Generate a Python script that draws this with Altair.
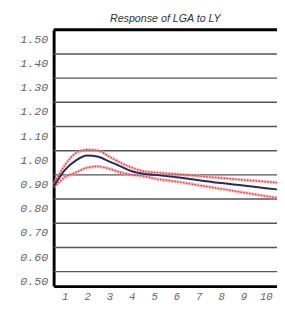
import altair as alt
import pandas as pd

periods = [0.5, 1, 1.5, 2, 2.5, 3, 3.5, 4, 4.5, 5, 6, 7, 8, 9, 10, 10.5]
central = [0.852, 0.92, 0.96, 0.98, 0.975, 0.955, 0.935, 0.915, 0.905, 0.90, 0.89, 0.878, 0.866, 0.856, 0.845, 0.84]
upper = [0.86, 0.94, 0.99, 1.004, 1.0, 0.975, 0.95, 0.93, 0.915, 0.91, 0.903, 0.895, 0.887, 0.879, 0.872, 0.868]
lower = [0.85, 0.89, 0.91, 0.93, 0.935, 0.925, 0.91, 0.90, 0.895, 0.885, 0.872, 0.857, 0.842, 0.827, 0.812, 0.805]
grid_values = [0.5, 0.6, 0.7, 0.8, 0.9, 1.0, 1.1, 1.2, 1.3, 1.4]
y_labels = [0.5, 0.6, 0.7, 0.8, 0.9, 1.0, 1.1, 1.2, 1.3, 1.4, 1.5]
x_labels = [1, 2, 3, 4, 5, 6, 7, 8, 9, 10]

df = pd.DataFrame({"period": periods, "central": central, "upper": upper, "lower": lower})
grid_df = pd.DataFrame({"v": grid_values})
top_df = pd.DataFrame({"v": [1.5]})

xs = alt.Scale(domain=[0.5, 10.5], nice=False, zero=False)
ys = alt.Scale(domain=[0.44, 1.5], nice=False, zero=False)

x_axis = alt.Axis(values=x_labels, title=None, grid=False, ticks=False, domainColor="black",
                  domainWidth=3, labelFont="Liberation Mono", labelFontStyle="italic",
                  labelFontSize=11, labelColor="#666", labelPadding=5, labelFlush=False,
                  labelOverlap=False)
y_axis = alt.Axis(values=y_labels, title=None, grid=False, ticks=False, domainColor="black",
                  domainWidth=3, labelFont="Liberation Mono", labelFontStyle="italic",
                  labelFontSize=12, labelColor="#666", labelPadding=6, labelOffset=9,
                  format=".2f", labelFlush=False, labelOverlap=False)

grid = alt.Chart(grid_df).mark_rule(color="#555", strokeWidth=1.5).encode(
    y=alt.Y("v:Q", scale=ys, axis=y_axis, title=None)
)
top = alt.Chart(top_df).mark_rule(color="black", strokeWidth=3).encode(
    y=alt.Y("v:Q", scale=ys, axis=y_axis, title=None)
)

base = alt.Chart(df)
def line(field, **kw):
    return base.mark_line(interpolate="monotone", **kw).encode(
        x=alt.X("period:Q", scale=xs, axis=x_axis, title=None),
        y=alt.Y(f"{field}:Q", scale=ys, axis=y_axis, title=None),
    )

glow_u = line("upper", color="#f4a0a0", strokeWidth=3.5, opacity=0.6)
glow_l = line("lower", color="#f4a0a0", strokeWidth=3.5, opacity=0.6)
up = line("upper", color="#e8202a", strokeWidth=1.3, strokeDash=[1.5, 1.5])
lo = line("lower", color="#e8202a", strokeWidth=1.3, strokeDash=[1.5, 1.5])
mid = line("central", color="#1f2d5c", strokeWidth=2)

chart = alt.layer(grid, top, glow_u, glow_l, up, lo, mid).properties(
    width=230, height=264,
    title=alt.TitleParams("Response of LGA to LY", font="Liberation Sans", fontStyle="italic",
                          fontWeight="normal", fontSize=11, color="#333", offset=4),
    autosize=alt.AutoSizeParams(type="none"),
    padding={"left": 47, "top": 18, "right": 0, "bottom": 13},
).configure_view(stroke=None).configure_axis(labelOverlap=False).configure(background="white")

chart.save("out.html", embed_options={"renderer": "svg", "actions": False})
